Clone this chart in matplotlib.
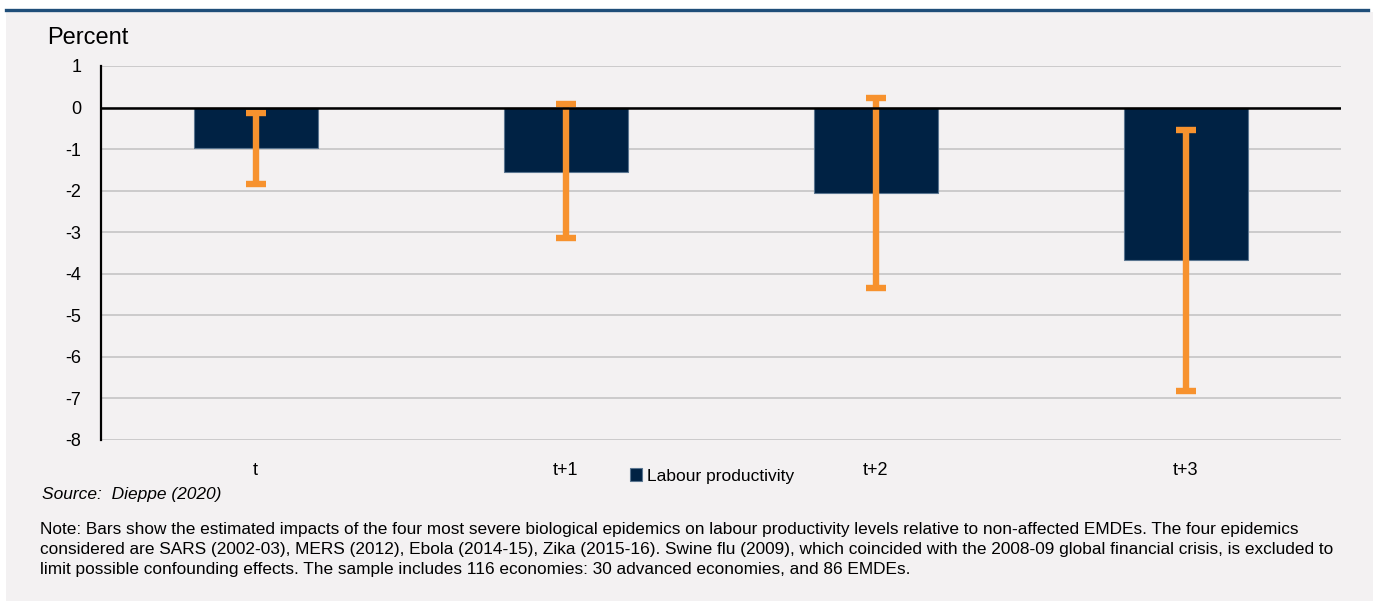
import matplotlib
matplotlib.use("Agg")
import matplotlib.pyplot as plt
from matplotlib.patches import Rectangle
from matplotlib.lines import Line2D
import numpy as np

plt.rcParams['font.family'] = ['Liberation Sans', 'DejaVu Sans']

# Data
categories = ["t", "t+1", "t+2", "t+3"]
impact = [-0.98, -1.54, -2.06, -3.67]
ci_low = [-1.83, -3.15, -4.35, -6.82]
ci_high = [-0.13, 0.09, 0.23, -0.53]
y_ticks = [1, 0, -1, -2, -3, -4, -5, -6, -7, -8]

W, H = 1375, 601
fig = plt.figure(figsize=(W / 100, H / 100), dpi=100, facecolor="white")

BG = "#F3F1F2"
NAVY = "#002244"
ORANGE = "#F7922E"

# Panel background and top rule
fig.patches.append(Rectangle((6 / W, 0), (1373 - 6) / W, (H - 12) / H,
                             transform=fig.transFigure, facecolor=BG,
                             edgecolor="none", zorder=-10))
fig.lines.append(Line2D([6 / W, 1368 / W], [1 - 10 / H, 1 - 10 / H],
                        transform=fig.transFigure, color="#1F4E79",
                        lw=2.4, zorder=1))

ax = fig.add_axes([100.5 / W, (H - 440) / H, (1340.5 - 100.5) / W, (440 - 66) / H])
ax.set_zorder(5)
ax.set_facecolor(BG)

x = np.arange(len(categories))
ax.bar(x, impact, width=0.4, color=NAVY, edgecolor="#5A7590", linewidth=0.8,
       zorder=3, label="Labour productivity")

mid = (np.array(ci_low) + np.array(ci_high)) / 2
err = [mid - np.array(ci_low), np.array(ci_high) - mid]
ax.errorbar(x, mid, yerr=err, fmt="none", ecolor=ORANGE, elinewidth=4.6,
            capsize=7, capthick=4.6, zorder=4)

ax.set_xlim(-0.5, 3.5)
ax.set_ylim(-8, 1)
ax.set_yticks(y_ticks)
ax.set_yticklabels([str(v) for v in y_ticks])
ax.set_xticks(x)
ax.set_xticklabels(categories)
ax.tick_params(axis="y", length=0, pad=13.8, labelsize=13)
ax.tick_params(axis="x", length=0, pad=16, labelsize=13)

ax.grid(axis="y", color="#C8C8C8", lw=1.3, zorder=1)
ax.set_axisbelow(True)
for s in ["top", "right", "bottom"]:
    ax.spines[s].set_visible(False)
ax.spines["left"].set_color("black")
ax.spines["left"].set_linewidth(1.6)
ax.axhline(0, color="black", lw=1.8, zorder=5)

fig.text(47 / W, 1 - 38 / H, "Percent", fontsize=17, va="center", ha="left")

ax.legend(loc="center", bbox_to_anchor=(712 / W, 1 - 476 / H),
          bbox_transform=fig.transFigure, frameon=False, fontsize=12.5,
          handlelength=0.7, handleheight=0.7, handletextpad=0.3)

fig.text(42 / W, 1 - 495 / H, "Source:  Dieppe (2020)", fontsize=12.5,
         style="italic", va="center", ha="left")

note = ("Note: Bars show the estimated impacts of the four most severe biological epidemics "
        "on labour productivity levels relative to non-affected EMDEs. The four epidemics\n"
        "considered are SARS (2002-03), MERS (2012), Ebola (2014-15), Zika (2015-16). "
        "Swine flu (2009), which coincided with the 2008-09 global financial crisis, is excluded to\n"
        "limit possible confounding effects. The sample includes 116 economies: "
        "30 advanced economies, and 86 EMDEs.")
fig.text(40 / W, 1 - 522 / H, note, fontsize=12.4, va="top", ha="left",
         linespacing=1.4)

fig.savefig("out.png", dpi=100, facecolor="white")
